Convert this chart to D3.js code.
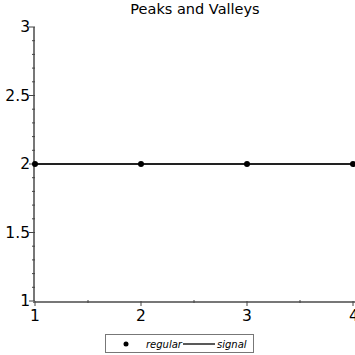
<!DOCTYPE html>
<html>
<head>
<meta charset="utf-8">
<script src="https://cdn.jsdelivr.net/npm/d3@7"></script>
<style>
  body { margin: 0; background: #fff; }
  text { font-family: "DejaVu Sans", sans-serif; }
</style>
</head>
<body>
<svg id="chart" width="355" height="355"></svg>
<script>
// data
const xs = [1, 2, 3, 4];
const regular = [2, 2, 2, 2];
const signal = [2, 2, 2, 2];
const xTicks = [1, 2, 3, 4];
const yTicks = [1, 1.5, 2, 2.5, 3];

const svg = d3.select("#chart");
const x = d3.scaleLinear().domain([1, 4]).range([35, 353]);
const y = d3.scaleLinear().domain([1, 3]).range([301, 27]);
const axisColor = "#777";

// title
svg.append("text")
    .attr("x", 195).attr("y", 14)
    .attr("text-anchor", "middle")
    .attr("font-size", "14.5px")
    .attr("fill", "#000")
    .text("Peaks and Valleys");

// y axis
svg.append("line")
    .attr("x1", 34).attr("x2", 34)
    .attr("y1", y(3)).attr("y2", y(1) + 1)
    .attr("stroke", axisColor).attr("stroke-width", 2);

d3.range(10, 31).map(d => d / 10).forEach(v => {
    const major = yTicks.some(t => Math.abs(t - v) < 1e-9);
    svg.append("line")
        .attr("x1", major ? 29 : 32).attr("x2", 35)
        .attr("y1", y(v)).attr("y2", y(v))
        .attr("stroke", "#444").attr("stroke-width", 1);
});

yTicks.forEach(t => {
    svg.append("text")
        .attr("x", 30).attr("y", y(t))
        .attr("text-anchor", "end")
        .attr("dominant-baseline", "central")
        .attr("font-size", "15.5px")
        .text(t);
});

// x axis
svg.append("line")
    .attr("x1", 33).attr("x2", 355)
    .attr("y1", 302).attr("y2", 302)
    .attr("stroke", axisColor).attr("stroke-width", 2);

d3.range(2, 9).map(d => d / 2).forEach(v => {
    const major = xTicks.includes(v);
    svg.append("line")
        .attr("x1", x(v)).attr("x2", x(v))
        .attr("y1", major ? 301 : 300).attr("y2", major ? 306 : 303)
        .attr("stroke", "#444").attr("stroke-width", 1);
});

xTicks.forEach(t => {
    svg.append("text")
        .attr("x", t === 4 ? 349 : x(t)).attr("y", 321)
        .attr("text-anchor", t === 4 ? "start" : "middle")
        .attr("font-size", "15.5px")
        .text(t);
});

// signal line
const line = d3.line().x((d, i) => x(xs[i])).y(d => y(d));
svg.append("path")
    .datum(signal)
    .attr("d", line)
    .attr("fill", "none")
    .attr("stroke", "#222")
    .attr("stroke-width", 2);

// regular points
svg.selectAll("circle.pt")
    .data(regular)
    .enter().append("circle")
    .attr("class", "pt")
    .attr("cx", (d, i) => x(xs[i]))
    .attr("cy", d => y(d))
    .attr("r", 3)
    .attr("fill", "#000");

// legend
const lg = svg.append("g");
lg.append("rect")
    .attr("x", 105.5).attr("y", 334.5)
    .attr("width", 148).attr("height", 18)
    .attr("fill", "#fff")
    .attr("stroke", axisColor).attr("stroke-width", 1);
lg.append("circle")
    .attr("cx", 126).attr("cy", 344).attr("r", 2.5).attr("fill", "#000");
lg.append("text")
    .attr("x", 146).attr("y", 348)
    .attr("font-size", "10px").attr("font-style", "italic")
    .text("regular");
lg.append("line")
    .attr("x1", 183).attr("x2", 215)
    .attr("y1", 344).attr("y2", 344)
    .attr("stroke", "#222").attr("stroke-width", 1.5);
lg.append("text")
    .attr("x", 217).attr("y", 348)
    .attr("font-size", "10px").attr("font-style", "italic")
    .text("signal");
</script>
</body>
</html>
